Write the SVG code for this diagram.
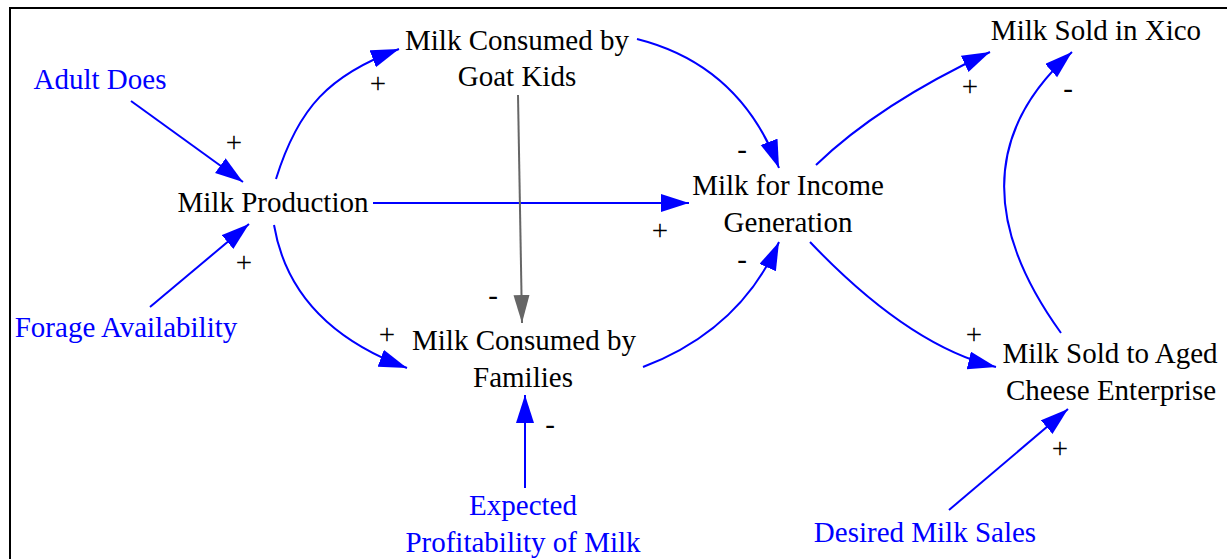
<svg xmlns="http://www.w3.org/2000/svg" width="1227" height="559" viewBox="0 0 1227 559">
<style>
  text { font-family: "Liberation Serif", "Times New Roman", serif; font-size: 29px; text-anchor: middle; }
  .var { fill: #000; }
  .exo { fill: #0000ff; }
  .link { fill: none; stroke: #0000ff; stroke-width: 2; marker-end: url(#ahBlue); }
  .gray { fill: none; stroke: #666666; stroke-width: 2; marker-end: url(#ahGray); }
  .pol { fill: #000; }
</style>
<defs>
  <marker id="ahBlue" markerUnits="userSpaceOnUse" markerWidth="30" markerHeight="20" refX="28" refY="9" orient="auto">
    <path d="M0,0 L28,9 L0,18 z" fill="#0000ff"/>
  </marker>
  <marker id="ahGray" markerUnits="userSpaceOnUse" markerWidth="30" markerHeight="20" refX="28" refY="8" orient="auto">
    <path d="M0,0 L28,8 L0,16 z" fill="#666666"/>
  </marker>
</defs>
<rect x="0" y="0" width="1227" height="559" fill="#ffffff"/>
<path d="M10,559 V8 H1227" fill="none" stroke="#000" stroke-width="2"/>

<g id="connectors">
  <!-- Adult Does -> Milk Production -->
  <path class="link" d="M131,101 L243,182"/>
  <text class="pol" x="234" y="152">+</text>
  <!-- Forage Availability -> Milk Production -->
  <path class="link" d="M150,307 L249,224"/>
  <text class="pol" x="244" y="272">+</text>
  <!-- Milk Production -> Milk Consumed by Goat Kids -->
  <path class="link" d="M276,179 C298,108 329,75 399,49"/>
  <text class="pol" x="378" y="93">+</text>
  <!-- Milk Production -> Milk Consumed by Families -->
  <path class="link" d="M274,225 Q291,325 407,368"/>
  <text class="pol" x="387" y="344">+</text>
  <!-- Milk Production -> Milk for Income Generation -->
  <path class="link" d="M373,203 L689,203"/>
  <text class="pol" x="660" y="240">+</text>
  <!-- Milk Consumed by Goat Kids -> Milk Consumed by Families -->
  <path class="gray" d="M518,95 L522,323"/>
  <text class="pol" x="493" y="305">-</text>
  <!-- Milk Consumed by Goat Kids -> Milk for Income Generation -->
  <path class="link" d="M637,39 Q740,65 779,168"/>
  <text class="pol" x="742" y="159">-</text>
  <!-- Milk Consumed by Families -> Milk for Income Generation -->
  <path class="link" d="M643,367 Q740,330 779,242"/>
  <text class="pol" x="742" y="269">-</text>
  <!-- Milk for Income Generation -> Milk Sold in Xico -->
  <path class="link" d="M816,165 Q879,104 990,52"/>
  <text class="pol" x="970" y="96">+</text>
  <!-- Milk for Income Generation -> Milk Sold to Aged Cheese Enterprise -->
  <path class="link" d="M810,242 Q909,346 996,367"/>
  <text class="pol" x="974" y="344">+</text>
  <!-- Milk Sold to Aged Cheese Enterprise -> Milk Sold in Xico -->
  <path class="link" d="M1061,333 Q942,168 1072,52"/>
  <text class="pol" x="1068" y="98">-</text>
  <!-- Expected Profitability of Milk -> Milk Consumed by Families -->
  <path class="link" d="M525,488 L525,395"/>
  <text class="pol" x="550" y="434">-</text>
  <!-- Desired Milk Sales -> Milk Sold to Aged Cheese Enterprise -->
  <path class="link" d="M949,510 L1068,409"/>
  <text class="pol" x="1060" y="458">+</text>
</g>

<g id="node-adult-does">
  <text class="exo" x="100" y="89">Adult Does</text>
</g>
<g id="node-forage-availability">
  <text class="exo" x="126" y="337">Forage Availability</text>
</g>
<g id="node-milk-production">
  <text class="var" x="273" y="212">Milk Production</text>
</g>
<g id="node-milk-consumed-goat-kids">
  <text class="var" x="517" y="50">Milk Consumed by</text>
  <text class="var" x="517" y="86">Goat Kids</text>
</g>
<g id="node-milk-consumed-families">
  <text class="var" x="524" y="350">Milk Consumed by</text>
  <text class="var" x="523" y="387">Families</text>
</g>
<g id="node-expected-profitability">
  <text class="exo" x="523" y="515">Expected</text>
  <text class="exo" x="523" y="552">Profitability of Milk</text>
</g>
<g id="node-milk-income-generation">
  <text class="var" x="788" y="195">Milk for Income</text>
  <text class="var" x="788" y="232">Generation</text>
</g>
<g id="node-milk-sold-xico">
  <text class="var" x="1096" y="40">Milk Sold in Xico</text>
</g>
<g id="node-milk-sold-aged-cheese">
  <text class="var" x="1110" y="363">Milk Sold to Aged</text>
  <text class="var" x="1111" y="400">Cheese Enterprise</text>
</g>
<g id="node-desired-milk-sales">
  <text class="exo" x="925" y="542">Desired Milk Sales</text>
</g>
</svg>
